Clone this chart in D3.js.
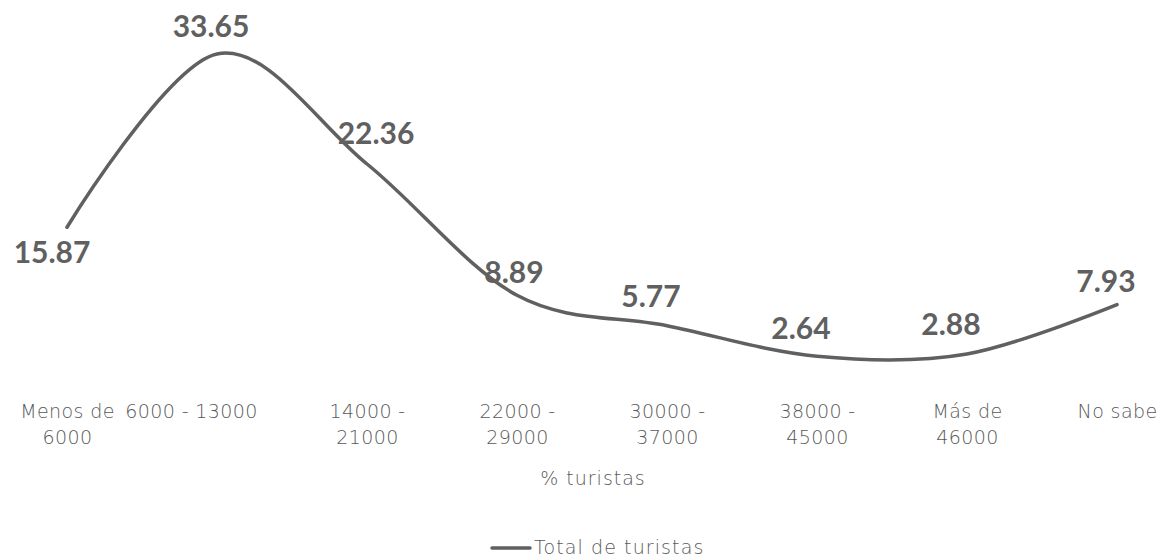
<!DOCTYPE html>
<html>
<head>
<meta charset="utf-8">
<script src="https://cdn.jsdelivr.net/npm/d3@7"></script>
<style>
  html, body { margin: 0; padding: 0; background: #ffffff; }
  svg { display: block; }
</style>
</head>
<body>
<div id="chart"></div>
<script>
// Income bands (category axis) and the share of tourists in each
const categories = [
  ["Menos de", "6000"],
  ["6000 - 13000"],
  ["14000 -", "21000"],
  ["22000 -", "29000"],
  ["30000 -", "37000"],
  ["38000 -", "45000"],
  ["Más de", "46000"],
  ["No sabe"]
];
const values = [15.87, 33.65, 22.36, 8.89, 5.77, 2.64, 2.88, 7.93];
const seriesName = "Total de turistas";
const axisTitle = "% turistas";

// Label nudges (pixels) relative to each point: [dx, dy of baseline]
const labelNudge = [[-15, 36], [-6, -17], [9, -20], [-3, -12], [-16, -19], [-16, -17], [-16, -19], [-11, -13]];
const tickNudge = [0, -26, 0, 0, 0, 0, 0, 0];

const W = 1174, H = 559;
const svg = d3.select("#chart").append("svg")
  .attr("width", W).attr("height", H);

const x = d3.scalePoint()
  .domain(d3.range(categories.length))
  .range([67, 1117]);

const y = d3.scaleLinear()
  .domain([0, 35])
  .range([382, 382 - 35 * 9.75]);

const lineColor = "#606060";
const textColor = "#595959";
const axisFont = "'DejaVu Sans', sans-serif";

// Smoothed series line
const line = d3.line()
  .x((d, i) => x(i))
  .y(d => y(d))
  .curve(d3.curveCatmullRom.alpha(0));

svg.append("path")
  .datum(values)
  .attr("d", line)
  .attr("fill", "none")
  .attr("stroke", lineColor)
  .attr("stroke-width", 3.5)
  .attr("stroke-linecap", "round");

// Value labels
svg.append("g")
  .selectAll("text")
  .data(values)
  .join("text")
  .attr("x", (d, i) => x(i) + labelNudge[i][0])
  .attr("y", (d, i) => y(d) + labelNudge[i][1])
  .attr("text-anchor", "middle")
  .attr("font-family", "Lato, 'Open Sans', sans-serif")
  .attr("font-weight", 700)
  .attr("font-size", 30)
  .attr("fill", lineColor)
  .text(d => d.toFixed(2));

// Category axis (no axis line, no ticks)
const axis = svg.append("g")
  .attr("transform", "translate(0,418)")
  .call(d3.axisBottom(x).tickSize(0).tickFormat(""));
axis.select(".domain").remove();

axis.selectAll(".tick").each(function(i) {
  const t = d3.select(this).append("text")
    .attr("text-anchor", "middle")
    .attr("font-family", axisFont)
    .attr("font-weight", 200)
    .attr("font-size", 19)
    .attr("letter-spacing", 0.4)
    .attr("fill", textColor)
    .attr("x", tickNudge[i]);
  categories[i].forEach((s, k) => {
    t.append("tspan")
      .attr("x", tickNudge[i])
      .attr("y", k * 26)
      .text(s);
  });
});

// Axis title
svg.append("text")
  .attr("x", 593)
  .attr("y", 485)
  .attr("text-anchor", "middle")
  .attr("font-family", axisFont)
  .attr("font-weight", 200)
  .attr("font-size", 19)
  .attr("letter-spacing", 1)
  .attr("fill", textColor)
  .text(axisTitle);

// Legend
const legend = svg.append("g").attr("transform", "translate(492,548)");
legend.append("line")
  .attr("x1", 0).attr("x2", 38)
  .attr("y1", 0).attr("y2", 0)
  .attr("stroke", lineColor)
  .attr("stroke-width", 3.5)
  .attr("stroke-linecap", "round");
legend.append("text")
  .attr("x", 42)
  .attr("y", 6)
  .attr("font-family", axisFont)
  .attr("font-weight", 200)
  .attr("font-size", 19)
  .attr("letter-spacing", 1.1)
  .attr("fill", textColor)
  .text(seriesName);
</script>
</body>
</html>
